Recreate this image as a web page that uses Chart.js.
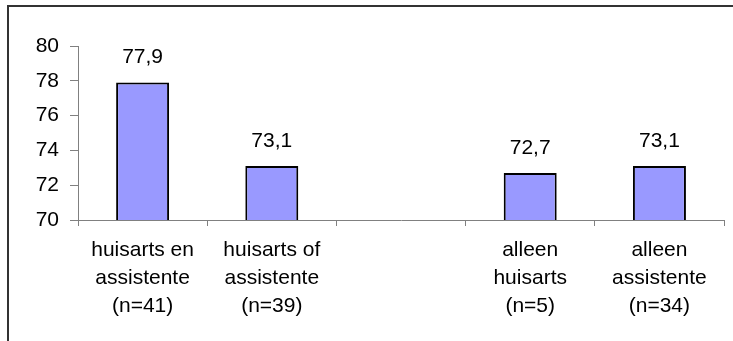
<!DOCTYPE html>
<html>
<head>
<meta charset="utf-8">
<script src="https://cdn.jsdelivr.net/npm/chart.js@4/dist/chart.umd.min.js"></script>
<style>
  html, body { margin: 0; padding: 0; background: #fff; }
  #wrap { width: 733px; height: 341px; position: relative; }
</style>
</head>
<body>
<div id="wrap"><canvas id="c" width="733" height="341"></canvas></div>
<script>
// Categories (multi-line labels); the third slot is an empty spacer column
const categories = [
  ['huisarts en', 'assistente', '(n=41)'],
  ['huisarts of', 'assistente', '(n=39)'],
  [''],
  ['alleen', 'huisarts', '(n=5)'],
  ['alleen', 'assistente', '(n=34)']
];
const scores = [77.9, 73.1, null, 72.7, 73.1];
const yTicks = [70, 72, 74, 76, 78, 80];

const FONT = '"Liberation Sans", Arial, sans-serif';

// Thin frame around the whole figure
const framePlugin = {
  id: 'frame',
  beforeDraw(chart) {
    const ctx = chart.ctx;
    ctx.save();
    ctx.strokeStyle = '#333';
    ctx.lineWidth = 2;
    ctx.strokeRect(8, 6, chart.width + 20, chart.height + 20);
    ctx.restore();
  }
};

// Value labels above each bar, decimal comma
const valueLabels = {
  id: 'valueLabels',
  afterDatasetsDraw(chart) {
    const ctx = chart.ctx;
    const meta = chart.getDatasetMeta(0);
    ctx.save();
    ctx.font = '21px ' + FONT;
    ctx.fillStyle = '#000';
    ctx.textAlign = 'center';
    ctx.textBaseline = 'middle';
    meta.data.forEach((bar, i) => {
      const v = scores[i];
      if (v === null || v === undefined) return;
      ctx.fillText(v.toFixed(1).replace('.', ','), bar.x, bar.y - 25);
    });
    ctx.restore();
  }
};

new Chart(document.getElementById('c'), {
  type: 'bar',
  data: {
    labels: categories,
    datasets: [{
      data: scores,
      backgroundColor: '#9999FF',
      borderColor: '#000',
      borderWidth: 2,
      borderSkipped: false,
      categoryPercentage: 1,
      barPercentage: 0.41
    }]
  },
  options: {
    responsive: false,
    animation: false,
    devicePixelRatio: 1,
    layout: { padding: { left: 0, right: 9, top: 46, bottom: 0 } },
    plugins: {
      legend: { display: false },
      tooltip: { enabled: false }
    },
    scales: {
      x: {
        grid: {
          offset: true,
          drawOnChartArea: false,
          drawTicks: true,
          tickLength: 6,
          color: '#808080'
        },
        border: { color: '#808080', width: 1 },
        ticks: {
          font: { family: FONT, size: 21, lineHeight: 1.33 },
          color: '#000',
          padding: 10,
          maxRotation: 0,
          autoSkip: false
        },
        afterFit(scale) { scale.height = 121; }
      },
      y: {
        min: 70,
        max: 80,
        afterBuildTicks(scale) { scale.ticks = yTicks.map(v => ({ value: v })); },
        grid: {
          drawOnChartArea: false,
          drawTicks: true,
          tickLength: 8,
          color: '#808080'
        },
        border: { color: '#808080', width: 1 },
        ticks: {
          font: { family: FONT, size: 21 },
          color: '#000',
          padding: 11
        },
        afterFit(scale) { scale.width = 78; }
      }
    }
  },
  plugins: [framePlugin, valueLabels]
});
</script>
</body>
</html>
